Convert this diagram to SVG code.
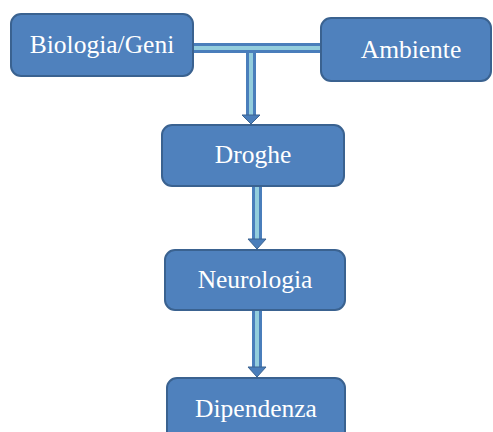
<svg xmlns="http://www.w3.org/2000/svg" width="493" height="432" viewBox="0 0 493 432">
<style>
.box{fill:#4F81BD;stroke:#3A6290;stroke-width:2}
.lbl{font-family:'Liberation Serif','Times New Roman',serif;font-size:25.5px;fill:#ffffff;text-anchor:middle}
.pipe-o{fill:none;stroke:#4A7EBB;stroke-width:10}
.pipe-i{fill:none;stroke:#93CDDD;stroke-width:4}
.head{fill:#4A7EBB;stroke:#3A6290;stroke-width:1}
</style>
<rect width="493" height="432" fill="#ffffff"/>
<g id="connectors">
  <path class="pipe-o" d="M193 48H321"/>
  <path class="pipe-o" d="M251 48V117"/>
  <path class="pipe-i" d="M193 48H321"/>
  <path class="pipe-i" d="M251 53V117"/>
  <polygon class="head" points="242,115 260,115 251,124"/>
  <path class="pipe-o" d="M257 186V241"/>
  <path class="pipe-i" d="M257 186V241"/>
  <polygon class="head" points="248,239 266,239 257,249"/>
  <path class="pipe-o" d="M257 310V369"/>
  <path class="pipe-i" d="M257 310V369"/>
  <polygon class="head" points="248,367 266,367 257,377"/>
</g>
<g id="biologia">
  <rect class="box" x="11" y="14" width="182" height="62" rx="10"/>
  <text class="lbl" x="102" y="53">Biologia/Geni</text>
</g>
<g id="ambiente">
  <rect class="box" x="321" y="18" width="170" height="63" rx="10"/>
  <text class="lbl" x="411" y="58">Ambiente</text>
</g>
<g id="droghe">
  <rect class="box" x="162" y="125" width="182" height="61" rx="10"/>
  <text class="lbl" x="253" y="163">Droghe</text>
</g>
<g id="neurologia">
  <rect class="box" x="165" y="250" width="180" height="60" rx="10"/>
  <text class="lbl" x="255" y="288">Neurologia</text>
</g>
<g id="dipendenza">
  <rect class="box" x="167" y="378" width="178" height="64" rx="10"/>
  <text class="lbl" x="256" y="417">Dipendenza</text>
</g>
</svg>
